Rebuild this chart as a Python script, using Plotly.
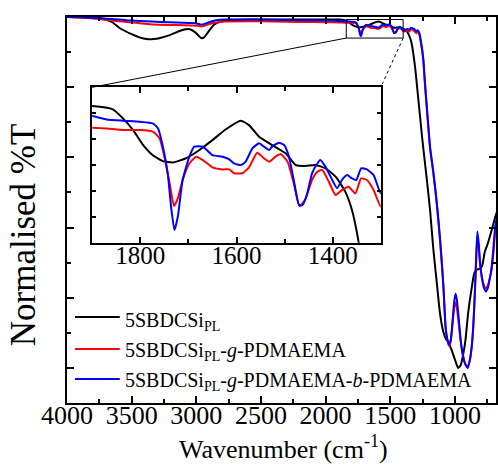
import plotly.graph_objects as go

# ---------------- data ----------------
wn_black = [4000, 3900, 3800, 3760, 3700, 3650, 3590, 3500, 3440, 3385, 3330, 3280, 3200, 3130,
            3080, 3050, 3010, 2985, 2962, 2940, 2920, 2890, 2860, 2820, 2760, 2600, 2400, 2200,
            2000, 1900, 1857, 1836, 1815, 1794, 1774, 1753, 1732, 1705, 1677, 1650, 1622, 1591,
            1574, 1553, 1526, 1498, 1477, 1457, 1436, 1415, 1394, 1374, 1360, 1346, 1334, 1308,
            1282, 1257, 1244, 1218, 1192, 1167, 1142, 1115, 1090, 1065, 1052, 1040, 1026, 1000,
            975, 955, 935, 918, 898, 872, 850, 830, 810, 790, 769, 744, 710, 688, 670]
t_black = [1.0, 1.0, 0.999, 0.998, 0.993, 0.985, 0.968, 0.951, 0.942, 0.937, 0.937, 0.940, 0.949, 0.960,
           0.965, 0.965, 0.957, 0.948, 0.940, 0.942, 0.951, 0.966, 0.979, 0.986, 0.991, 0.993, 0.993, 0.993,
           0.993, 0.9928, 0.9915, 0.988, 0.9835, 0.9777, 0.9738, 0.9715, 0.971, 0.9726, 0.9758, 0.9796, 0.9838, 0.9871,
           0.9854, 0.9809, 0.9777, 0.9745, 0.970, 0.9696, 0.970, 0.9687, 0.9655, 0.9597, 0.9526, 0.940, 0.924, 0.858,
           0.763, 0.670, 0.625, 0.540, 0.450, 0.340, 0.250, 0.155, 0.104, 0.080, 0.076, 0.065, 0.052, 0.024,
           0.0, 0.008, 0.040, 0.080, 0.155, 0.223, 0.270, 0.280, 0.282, 0.290, 0.330, 0.356, 0.400, 0.430, 0.450]

wn_red = [4000, 3900, 3800, 3700, 3600, 3538, 3400, 3282, 3150, 3028, 2990, 2962, 2930, 2880, 2846,
          2780, 2600, 2400, 2200, 2000,
          1900, 1870, 1836, 1801, 1774, 1760, 1750, 1739, 1730, 1722, 1712, 1698, 1684, 1670, 1650,
          1629, 1615, 1605, 1588, 1574, 1557, 1543, 1532, 1519, 1508, 1494, 1481, 1469, 1457, 1443,
          1432, 1422, 1408, 1394, 1381, 1367, 1353, 1341, 1329, 1315, 1300,
          1290, 1275, 1257, 1244, 1231, 1211, 1192, 1167, 1142, 1115, 1090, 1072, 1060, 1046, 1032,
          1018, 1005, 995, 985, 970, 955, 940, 920, 900, 885, 870, 858, 845, 835, 826, 817, 805,
          790, 775, 760, 745, 730, 718, 700, 688, 670]
t_red = [1.0, 0.998, 0.996, 0.992, 0.988, 0.986, 0.981, 0.978, 0.977, 0.976, 0.975, 0.973, 0.976, 0.982, 0.984,
         0.987, 0.988, 0.987, 0.986, 0.985,
         0.9844, 0.9841, 0.9835, 0.9835, 0.9829, 0.9803, 0.9732, 0.9629, 0.9542, 0.9571, 0.9642, 0.9706, 0.9732, 0.9719, 0.9691,
         0.9683, 0.9683, 0.9668, 0.9668, 0.9691, 0.9747, 0.9726, 0.9713, 0.9732, 0.9742, 0.9713, 0.9629, 0.9542, 0.9567, 0.9642,
         0.9674, 0.9681, 0.9635, 0.9584, 0.9603, 0.9616, 0.959, 0.9648, 0.9642, 0.9603, 0.9539,
         0.957, 0.950, 0.912, 0.875, 0.805, 0.710, 0.625, 0.555, 0.474, 0.365, 0.237, 0.113, 0.082, 0.063, 0.075,
         0.125, 0.172, 0.187, 0.172, 0.125, 0.075, 0.040, 0.012, 0.005, 0.022, 0.060, 0.115, 0.215, 0.310, 0.375, 0.350, 0.295,
         0.255, 0.235, 0.228, 0.235, 0.255, 0.275, 0.335, 0.390, 0.425]

wn_blue = [4000, 3900, 3800, 3700, 3600, 3538, 3400, 3282, 3150, 3028, 2990, 2962, 2930, 2880, 2846,
           2780, 2600, 2400, 2200, 2000,
           1900, 1870, 1836, 1801, 1774, 1763, 1753, 1743, 1736, 1729, 1722, 1712, 1698, 1688, 1670,
           1650, 1629, 1615, 1605, 1591, 1581, 1567, 1553, 1543, 1532, 1526, 1512, 1501, 1491, 1481,
           1470, 1463, 1453, 1443, 1432, 1426, 1415, 1401, 1391, 1381, 1370, 1360, 1351, 1341, 1329,
           1315, 1300,
           1290, 1275, 1257, 1244, 1231, 1211, 1192, 1167, 1142, 1115, 1090, 1072, 1060, 1046, 1032,
           1018, 1005, 995, 985, 970, 955, 940, 920, 900, 885, 870, 858, 845, 835, 826, 817, 805,
           790, 775, 760, 745, 730, 718, 700, 688, 670]
t_blue = [1.0, 0.999, 0.998, 0.995, 0.993, 0.991, 0.988, 0.986, 0.984, 0.983, 0.981, 0.978, 0.981, 0.988, 0.991,
          0.993, 0.993, 0.992, 0.991, 0.990,
          0.9889, 0.9876, 0.9871, 0.9867, 0.9861, 0.9841, 0.9771, 0.9668, 0.9539, 0.9449, 0.950, 0.9642, 0.9732, 0.9771, 0.9771,
          0.9738, 0.9732, 0.9722, 0.9706, 0.970, 0.9713, 0.9764, 0.9784, 0.9771, 0.9758, 0.9771, 0.9786, 0.9777, 0.9732, 0.9642,
          0.9545, 0.9545, 0.959, 0.9668, 0.9706, 0.9719, 0.9693, 0.9642, 0.961, 0.9642, 0.9661, 0.9648, 0.9642, 0.9687, 0.9683,
          0.9661, 0.959,
          0.962, 0.955, 0.918, 0.880, 0.810, 0.716, 0.630, 0.560, 0.479, 0.370, 0.242, 0.118, 0.085, 0.066, 0.080,
          0.135, 0.190, 0.211, 0.195, 0.140, 0.080, 0.040, 0.010, 0.0, 0.020, 0.060, 0.118, 0.220, 0.320, 0.389, 0.360, 0.300,
          0.255, 0.228, 0.218, 0.228, 0.255, 0.280, 0.350, 0.403, 0.440]

series_names = ["5SBDCSi<sub>PL</sub>",
                "5SBDCSi<sub>PL</sub>-<i>g</i>-PDMAEMA",
                "5SBDCSi<sub>PL</sub>-<i>g</i>-PDMAEMA-<i>b</i>-PDMAEMA"]
series_colors = ["#000000", "#ff0000", "#0000ff"]

main_x_range = [4000, 682]
main_y_range = [-0.1, 1.0]
inset_x_range = [1900, 1300]
inset_y_range = [0.94, 1.0]
zoom_box_x = [1840, 1400]
zoom_box_y = [0.94, 0.993]
main_ticks = [4000, 3500, 3000, 2500, 2000, 1500, 1000]
inset_ticks = [1800, 1600, 1400]

# ---------------- layout geometry ----------------
W, H = 498, 464
ML, MR, MT, MB = 67, 0, 17, 61
PW, PH = W - ML - MR, H - MT - MB
FONT = "Liberation Serif"


def px2paper_x(px):
    return (px - ML) / PW


def px2paper_y(py):
    return (H - MB - py) / PH


inset_dom_x = [px2paper_x(92.3), px2paper_x(382.3)]
inset_dom_y = [px2paper_y(242.7), px2paper_y(87.3)]

fig = go.Figure()
all_x = [wn_black, wn_red, wn_blue]
all_y = [t_black, t_red, t_blue]
for xs, ys, c in zip(all_x, all_y, series_colors):
    fig.add_trace(go.Scatter(x=xs, y=ys, mode="lines", line=dict(color=c, width=2, shape="spline", smoothing=0.5),
                             showlegend=False, xaxis="x", yaxis="y"))
for xs, ys, c in zip(all_x, all_y, series_colors):
    fig.add_trace(go.Scatter(x=xs, y=ys, mode="lines", line=dict(color=c, width=2, shape="spline", smoothing=0.5),
                             showlegend=False, xaxis="x2", yaxis="y2"))

axis_common = dict(showgrid=False, zeroline=False, showline=True, linecolor="black", linewidth=1.5,
                   mirror="ticks", ticks="inside", tickcolor="black", tickwidth=1.5)

fig.update_layout(
    width=W, height=H, margin=dict(l=ML, r=MR, t=MT, b=MB),
    paper_bgcolor="white", plot_bgcolor="white",
    font=dict(family=FONT, color="black"),
    xaxis=dict(range=main_x_range, tickvals=main_ticks, ticklen=7, ticklabelstandoff=-12,
               minor=dict(dtick=250, tick0=0, ticklen=4, ticks="inside", tickcolor="black", tickwidth=1.5),
               tickfont=dict(size=26, family=FONT), **axis_common),
    yaxis=dict(range=main_y_range, dtick=0.2, tick0=0, ticklen=7, showticklabels=False,
               minor=dict(dtick=0.1, tick0=0, ticklen=4, ticks="inside", tickcolor="black", tickwidth=1.5),
               **axis_common),
    xaxis2=dict(domain=inset_dom_x, anchor="y2", range=inset_x_range, tickvals=inset_ticks, ticklen=6,
                ticklabelstandoff=-10,
                minor=dict(dtick=100, tick0=0, ticklen=4, ticks="inside", tickcolor="black", tickwidth=1.5),
                tickfont=dict(size=25, family=FONT), **axis_common),
    yaxis2=dict(domain=inset_dom_y, anchor="x2", range=inset_y_range, dtick=0.01, tick0=0, ticklen=4,
                showticklabels=False, **axis_common),
)

# zoom rectangle in the main plot and connectors to the inset
fig.add_shape(type="rect", xref="x", yref="y", x0=zoom_box_x[0], x1=zoom_box_x[1], y0=zoom_box_y[0],
              y1=zoom_box_y[1], line=dict(color="black", width=1))


def data2paper(xv, yv):
    fx = (xv - main_x_range[0]) / (main_x_range[1] - main_x_range[0])
    fy = (yv - main_y_range[0]) / (main_y_range[1] - main_y_range[0])
    return fx, fy


bl = data2paper(zoom_box_x[0], zoom_box_y[0])
br = data2paper(zoom_box_x[1], zoom_box_y[0])
fig.add_shape(type="line", xref="paper", yref="paper", x0=bl[0], y0=bl[1], x1=inset_dom_x[0], y1=inset_dom_y[1],
              line=dict(color="black", width=1))
fig.add_shape(type="line", xref="paper", yref="paper", x0=br[0], y0=br[1], x1=inset_dom_x[1], y1=inset_dom_y[1],
              line=dict(color="black", width=1, dash="dot"))

# legend (drawn manually)
leg_line_y = [317, 349, 379]
leg_text_y = [321, 351, 381]
for name, c, ly, ty in zip(series_names, series_colors, leg_line_y, leg_text_y):
    fig.add_shape(type="line", xref="paper", yref="paper", x0=px2paper_x(75), x1=px2paper_x(120),
                  y0=px2paper_y(ly), y1=px2paper_y(ly), line=dict(color=c, width=2))
    fig.add_annotation(xref="paper", yref="paper", x=px2paper_x(123), y=px2paper_y(ty), xanchor="left",
                       yanchor="middle", text=name, showarrow=False, font=dict(size=20, family=FONT, color="black"))

# axis titles
fig.add_annotation(xref="paper", yref="paper", x=px2paper_x(285), y=px2paper_y(447), xanchor="center",
                   yanchor="middle", text="Wavenumber (cm<sup>-1</sup>)", showarrow=False,
                   font=dict(size=26, family=FONT, color="black"))
fig.add_annotation(xref="paper", yref="paper", x=px2paper_x(23), y=px2paper_y(235), xanchor="center",
                   yanchor="middle", text="Normalised %T", textangle=-90, showarrow=False,
                   font=dict(size=35, family=FONT, color="black"))

fig.write_html("out.html")
